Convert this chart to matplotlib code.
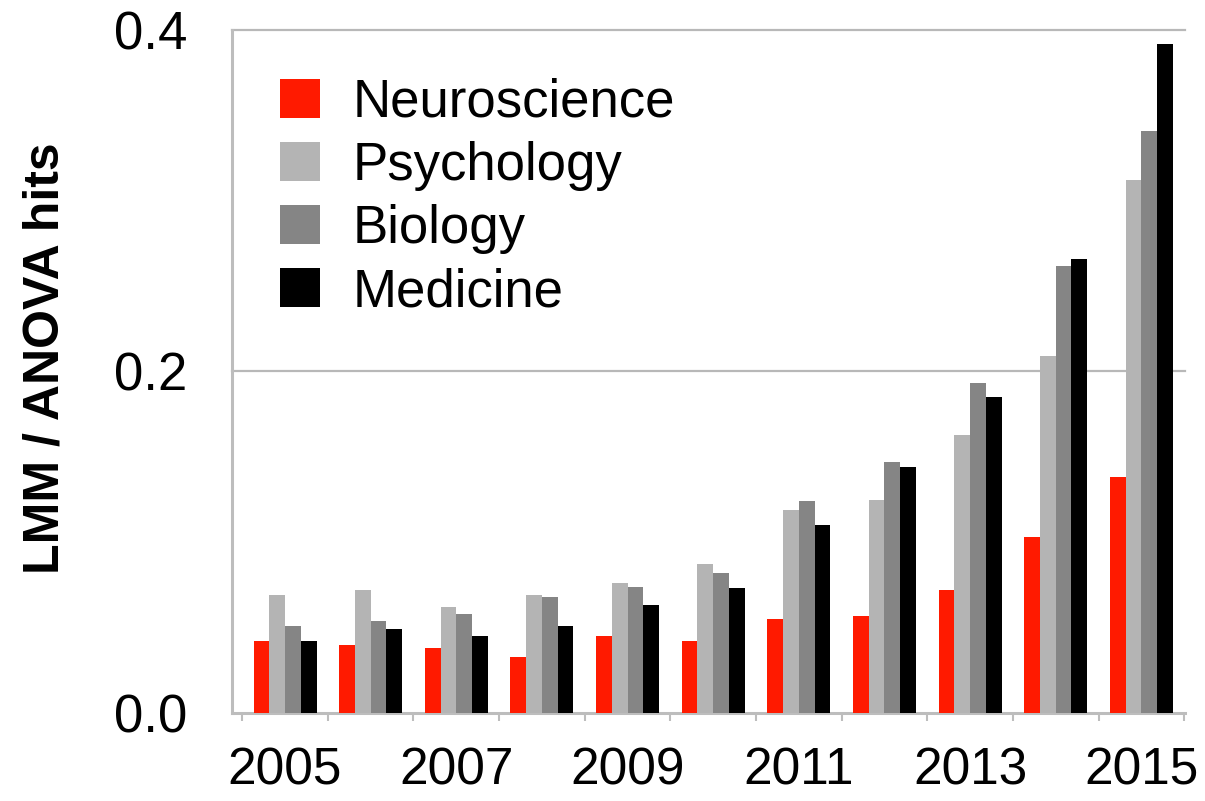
import matplotlib.pyplot as plt
import numpy as np

years = list(range(2005, 2016))
neuro = [0.042, 0.040, 0.038, 0.033, 0.045, 0.042, 0.055, 0.057, 0.072, 0.103, 0.138]
psych = [0.069, 0.072, 0.062, 0.069, 0.076, 0.087, 0.119, 0.125, 0.163, 0.209, 0.312]
bio = [0.051, 0.054, 0.058, 0.068, 0.074, 0.082, 0.124, 0.147, 0.193, 0.262, 0.341]
med = [0.042, 0.049, 0.045, 0.051, 0.063, 0.073, 0.110, 0.144, 0.185, 0.266, 0.392]

series = [("Neuroscience", neuro, "#ff1a00"),
          ("Psychology", psych, "#b4b4b4"),
          ("Biology", bio, "#858585"),
          ("Medicine", med, "#000000")]

plt.rcParams['font.family'] = ['Liberation Sans', 'DejaVu Sans']

fig = plt.figure(figsize=(12.05, 8.01), dpi=100)
ax = fig.add_axes([0.1925, 0.1099, 0.7909, 0.8527])

x = np.arange(len(years))
w = 0.184
for k, (name, vals, col) in enumerate(series):
    ax.bar(x + (k - 1.5) * w, vals, w, color=col, label=name, zorder=3)

ax.set_xlim(-0.62, 10.51)
ax.set_ylim(0, 0.4)

# grid lines
for yv in [0.2, 0.4]:
    ax.axhline(yv, color="#b8b8b8", lw=1.6, zorder=1, clip_on=False)

for s in ["top", "right"]:
    ax.spines[s].set_visible(False)
for s in ["left", "bottom"]:
    ax.spines[s].set_color("#bdbdbd")
    ax.spines[s].set_linewidth(2.2)

ax.set_yticks([0.0, 0.2, 0.4])
ax.set_yticklabels(["0.0", "0.2", "0.4"])
ax.tick_params(axis="y", length=0, pad=32, labelsize=38)

ax.set_xticks(x[::2])
ax.set_xticklabels([str(y) for y in years[::2]])
ax.set_xticks(np.arange(len(years) + 1) - 0.5, minor=True)
ax.tick_params(axis="x", which="major", length=0, pad=24, labelsize=37)
ax.tick_params(axis="x", which="minor", length=6, width=1.5, color="#bdbdbd", direction="out")

ax.set_ylabel("LMM / ANOVA hits", fontsize=36, fontweight="bold")
ax.yaxis.set_label_coords(-0.172, 0.52)

leg = ax.legend(loc="upper left", bbox_to_anchor=(0.05, 0.93), frameon=False,
                fontsize=38, handlelength=0.76, handleheight=0.76,
                handletextpad=0.62, labelspacing=0.25, borderpad=0, borderaxespad=0)

fig.savefig("out.png", dpi=100)
